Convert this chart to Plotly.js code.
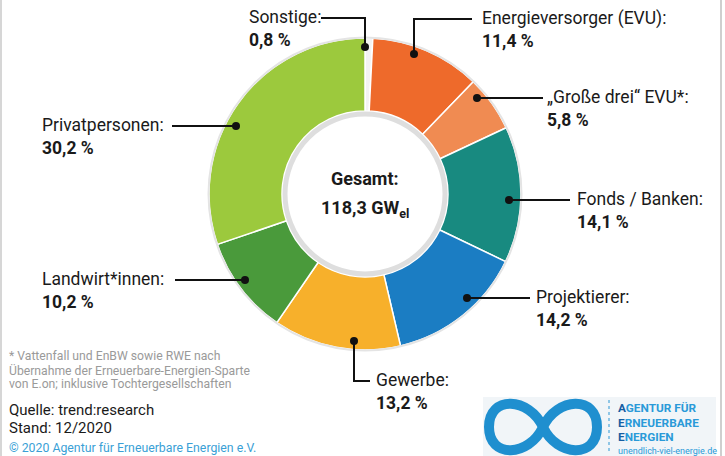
<!DOCTYPE html>
<html>
<head>
<meta charset="utf-8">
<script src="https://cdn.plot.ly/plotly-3.0.1.min.js"></script>
<style>html,body{margin:0;padding:0;background:#fff;}#chart{width:725px;height:456px;}</style>
</head>
<body>
<div id="chart"></div>
<script>
// ---- data ----
const categories = ["Sonstige", "Energieversorger (EVU)", "„Große drei“ EVU*", "Fonds / Banken", "Projektierer", "Gewerbe", "Landwirt*innen", "Privatpersonen"];
const shares = [0.8, 11.4, 5.8, 14.1, 14.2, 13.2, 10.2, 30.2];
const sliceColors = ["#f3f3f3", "#ee6a2b", "#f08b52", "#188a80", "#1b7dc3", "#f7b02b", "#4a9a3b", "#9cc93d"];
const totalGW = "118,3";
const footnoteLines = ["* Vattenfall und EnBW sowie RWE nach", "Übernahme der Erneuerbare-Energien-Sparte", "von E.on; inklusive Tochtergesellschaften"];

// ---- layout helpers ----
const W = 725, H = 456;
const px = x => x / W, py = y => 1 - y / H;
const cx = 365, cy = 194, R = 156;
const fmt = v => v.toFixed(1).replace('.', ',') + ' %';

// label block positions [left x, first line centre y] and leader polylines (pixel coords)
const labelPos = [[247,18],[480,19],[545,98],[575,200],[534,298],[374,381],[40,280],[40,126]];
const leaders = [
  [[321,18],[365,18],[365,47]],
  [[472,19],[414,19],[414,54]],
  [[543,98],[477,98]],
  [[570,200],[509,200]],
  [[530,298],[467,298]],
  [[370,381],[354,381],[354,341]],
  [[175,280],[245,280]],
  [[172,126],[236,126]]
];

const font = "Roboto, 'Open Sans', sans-serif";
const shapes = [];
const annotations = [];

// frame lines
shapes.push({type:'line', xref:'paper', yref:'paper', x0:px(1), x1:px(1), y0:0, y1:1, line:{color:'#d6d6d6', width:2}});
shapes.push({type:'line', xref:'paper', yref:'paper', x0:px(721), x1:px(721), y0:0, y1:1, line:{color:'#cfcfcf', width:2}});

// ring outlines
shapes.push({type:'circle', xref:'paper', yref:'paper', layer:'above',
  x0:px(cx-R-0.5), x1:px(cx+R+0.5), y0:py(cy+R+0.5), y1:py(cy-R-0.5), line:{color:'#e4e4e4', width:2}});
const ri = 80;
shapes.push({type:'circle', xref:'paper', yref:'paper', layer:'above',
  x0:px(cx-ri), x1:px(cx+ri), y0:py(cy+ri), y1:py(cy-ri), line:{color:'#dedede', width:5}});

// leaders + dots
leaders.forEach(pts => {
  let d = 'M ' + pts.map(p => px(p[0]) + ',' + py(p[1])).join(' L ');
  shapes.push({type:'path', xref:'paper', yref:'paper', path:d, line:{color:'#111', width:2}, layer:'above'});
  const e = pts[pts.length-1], r = 4;
  shapes.push({type:'circle', xref:'paper', yref:'paper', layer:'above',
    x0:px(e[0]-r), x1:px(e[0]+r), y0:py(e[1]+r), y1:py(e[1]-r), fillcolor:'#111', line:{width:0}});
});

// slice labels
categories.forEach((c, i) => {
  annotations.push({xref:'paper', yref:'paper', x:px(labelPos[i][0]), y:py(labelPos[i][1]-13),
    xanchor:'left', yanchor:'top', align:'left', showarrow:false,
    text: c + ':<br><b>' + fmt(shares[i]) + '</b>', font:{family:font, size:17.5, color:'#1a1a1a'}});
});

// centre text
annotations.push({xref:'paper', yref:'paper', x:px(cx), y:py(178), xanchor:'center', yanchor:'middle', showarrow:false,
  text:'<b>Gesamt:</b>', font:{family:font, size:18, color:'#1a1a1a'}});
annotations.push({xref:'paper', yref:'paper', x:px(cx), y:py(209), xanchor:'center', yanchor:'middle', showarrow:false,
  text:'<b>' + totalGW + ' GW<sub>el</sub></b>', font:{family:font, size:18, color:'#1a1a1a'}});

// footnote & source
footnoteLines.forEach((t, i) => annotations.push({xref:'paper', yref:'paper', x:px(7), y:py(356 + 14*i), xanchor:'left', yanchor:'middle', showarrow:false,
  text:t, font:{family:font, size:12.2, color:'#9a9a9a'}}));
annotations.push({xref:'paper', yref:'paper', x:px(7), y:py(410), xanchor:'left', yanchor:'middle', showarrow:false,
  text:'Quelle: trend:research', font:{family:font, size:15, color:'#1a1a1a'}});
annotations.push({xref:'paper', yref:'paper', x:px(7), y:py(428), xanchor:'left', yanchor:'middle', showarrow:false,
  text:'Stand: 12/2020', font:{family:font, size:15, color:'#1a1a1a'}});
annotations.push({xref:'paper', yref:'paper', x:px(7), y:py(448), xanchor:'left', yanchor:'middle', showarrow:false,
  text:'© 2020 Agentur für Erneuerbare Energien e.V.', font:{family:font, size:12.3, color:'#3a9fd6'}});

// logo
shapes.push({type:'rect', xref:'paper', yref:'paper', x0:px(483), x1:px(716), y0:py(456), y1:py(397), fillcolor:'#f1f5f8', line:{width:0}, layer:'below'});
const inf = 'M ' + [
  [543,427],'C',[557,397],[597,395],[597,427],'C',[597,459],[557,457],[543,427],
  'C',[529,397],[489,395],[489,427],'C',[489,459],[529,457],[543,427]
].map(p => typeof p === 'string' ? p : px(p[0]) + ',' + py(p[1])).join(' ');
shapes.push({type:'path', xref:'paper', yref:'paper', path:inf, line:{color:'#1f8fcf', width:10}});
shapes.push({type:'line', xref:'paper', yref:'paper', x0:px(609), x1:px(609), y0:py(400), y1:py(453), line:{color:'#6fb6e0', width:1.5, dash:'dot'}});
const logoLines = [['A','GENTUR FÜR',408],['E','RNEUERBARE',422.5],['E','NERGIEN',437]];
logoLines.forEach(l => annotations.push({xref:'paper', yref:'paper', x:px(616), y:py(l[2]), xanchor:'left', yanchor:'middle', showarrow:false,
  text:'<b><span style="color:#155ea3">' + l[0] + '</span>' + l[1] + '</b>',
  font:{family:font, size:11.8, color:'#2a9ad8'}}));
annotations.push({xref:'paper', yref:'paper', x:px(616), y:py(451), xanchor:'left', yanchor:'middle', showarrow:false,
  text:'unendlich-viel-energie.de', font:{family:font, size:9, color:'#2a9ad8'}});

const trace = {
  type:'pie', labels:categories, values:shares, sort:false, direction:'clockwise', rotation:0,
  hole:0.532, textinfo:'none', hoverinfo:'none', showlegend:false,
  marker:{colors:sliceColors, line:{color:'#ffffff', width:1.5}},
  domain:{x:[px(cx-R), px(cx+R)], y:[py(cy+R), py(cy-R)]}
};

Plotly.newPlot('chart', [trace], {
  width:W, height:H, margin:{l:0, r:0, t:0, b:0},
  paper_bgcolor:'#ffffff', plot_bgcolor:'#ffffff',
  showlegend:false, shapes:shapes, annotations:annotations,
  font:{family:font}
}, {staticPlot:true, displayModeBar:false});
</script>
</body>
</html>
